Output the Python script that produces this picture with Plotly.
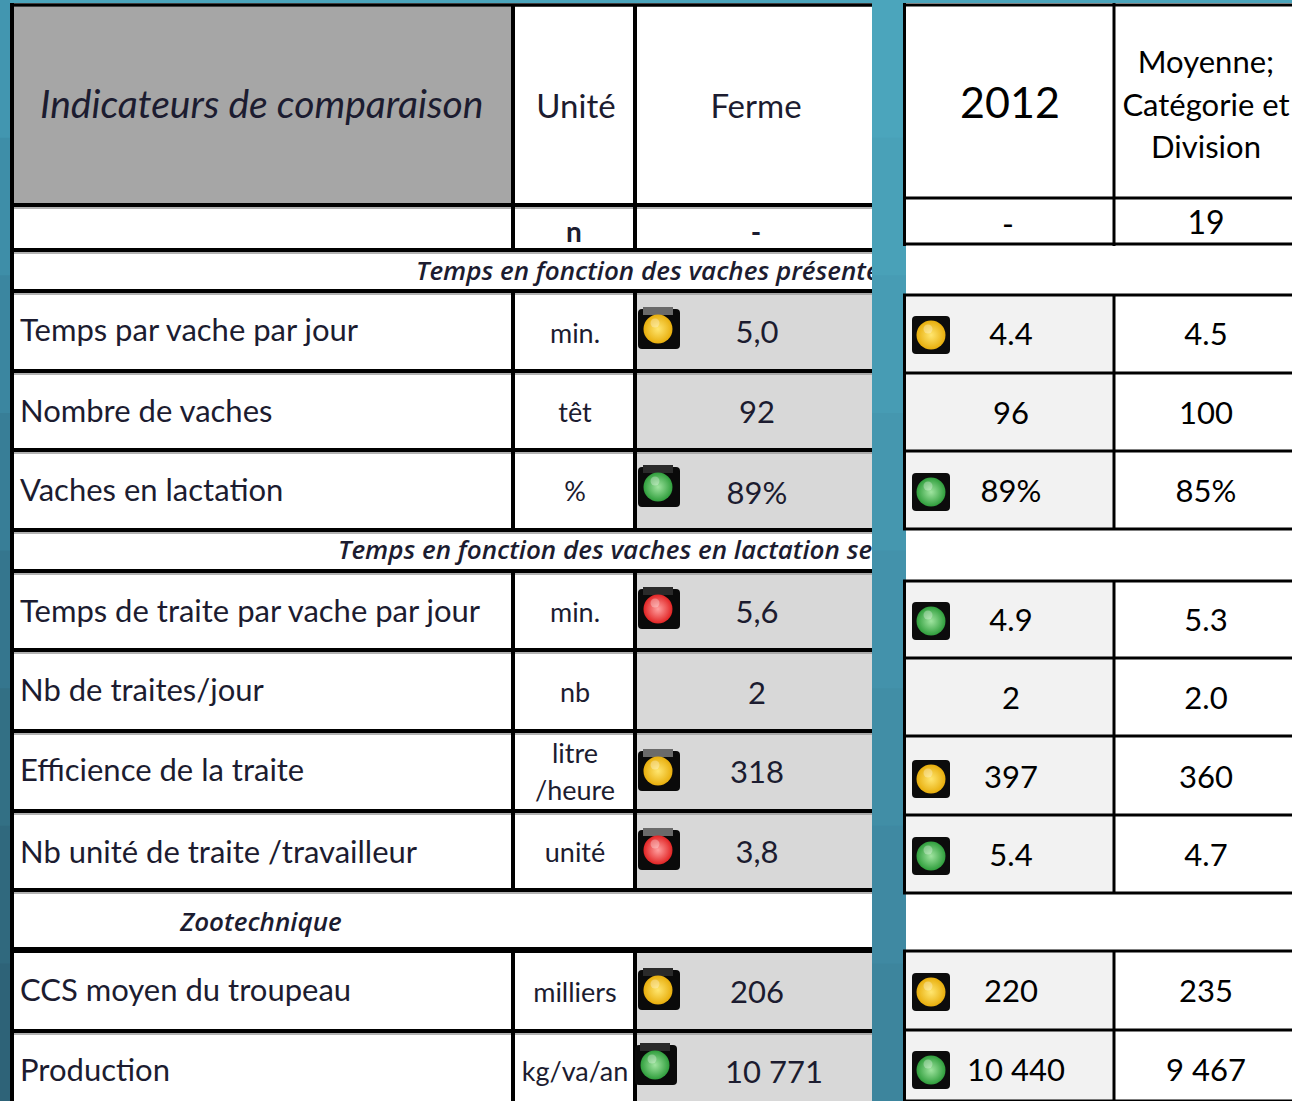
import plotly.graph_objects as go

# ---------- data ----------
indicators = ["Temps par vache par jour", "Nombre de vaches", "Vaches en lactation",
              "Temps de traite par vache par jour", "Nb de traites/jour", "Efficience de la traite",
              "Nb unité de traite /travailleur", "CCS moyen du troupeau", "Production"]
units = ["min.", "têt", "%", "min.", "nb", "/heure", "unité", "milliers", "kg/va/an"]
ferme = ["5,0", "92", "89%", "5,6", "2", "318", "3,8", "206", "10 771"]
year2012 = ["4.4", "96", "89%", "4.9", "2", "397", "5.4", "220", "10 440"]
moyenne = ["4.5", "100", "85%", "5.3", "2.0", "360", "4.7", "235", "9 467"]
ferme_status = ["y", None, "g", "r", None, "y", "r", "y", "g"]
year_status = ["y", None, "g", "g", None, "y", "g", "y", "g"]
sections = ["Temps en fonction des vaches présentes",
            "Temps en fonction des vaches en lactation seu", "Zootechnique"]
moy_title = ["Moyenne;", "Catégorie et", "Division"]

# ---------- layout constants (pixel-mapped axes) ----------
W, H = 1292, 1101
L_FONT, R_FONT = "Lato", "Lato"
L_TXT = "#1c1c30"
DY = 3  # baseline correction for the text traces
ROW_Y_LABEL = [330, 411, 490, 611, 690, 770, 852, 990, 1070]
ROW_Y_UNIT = [333, 412, 491, 612, 692, 790, 852, 992, 1071]
ROW_Y_FERME = [332, 412, 493, 612, 693, 772, 852, 992, 1072]
ROW_Y_RIGHT = [334, 413, 491, 620, 698, 777, 855, 991, 1070]
FERME_X = [757, 757, 757, 757, 757, 757, 757, 757, 774]
LIGHT_L_Y = [329, None, 487, 609, None, 771, 850, 990, 1065]
LIGHT_L_X = [658, None, 658, 658, None, 658, 658, 658, 655]
LIGHT_L_CAP = ["#6a6a6a", None, "#2a2a2a", "#2a2a2a", None, "#6a6a6a", "#6a6a6a", "#2a2a2a", "#2a2a2a"]
LIGHT_R_Y = [335, None, 492, 621, None, 779, 856, 992, 1070]
COL = {"y": ("#e8ae0c", "#ffe670"), "g": ("#2f9e3c", "#a0e4a0"), "r": ("#e22424", "#ffa0a0")}

L_HL = [205, 250, 291, 371, 450, 530, 571, 650, 731, 811, 890, 1031]
R_TOP_ROWS = [5, 198, 244]
R_BLOCKS = [(295, 373, 451, 529), (581, 658, 736, 815, 893), (951, 1030, 1101)]

STRIP_COLORS = ["#4ba5bc", "#49a1b8", "#479cb4", "#4597af", "#4392ab", "#418ea6", "#3f89a2", "#3d859d"]
EDGE_COLORS = ["#4296b0", "#3e8ea8", "#3b86a0", "#387e97", "#35768e", "#337085", "#30697e", "#2e6378"]

shapes = []


def rect(x0, y0, x1, y1, fill, layer="below"):
    shapes.append(dict(type="rect", x0=x0, y0=y0, x1=x1, y1=y1, fillcolor=fill,
                       line=dict(width=0), layer=layer, xref="x", yref="y"))


def hline(y, x0, x1, w=3.6, color="#000000", layer="below"):
    rect(x0, y - w / 2, x1, y + w / 2, color, layer)


def vline(x, y0, y1, w=3.6, layer="below"):
    rect(x - w / 2, y0, x + w / 2, y1, "#000000", layer)


def block(cx, cy, r=4, hw=19, hh=19, fill="#0a0a0a"):
    x0, x1, y0, y1 = cx - hw, cx + hw, cy - hh, cy + hh
    p = (f"M {x0+r} {y0} L {x1-r} {y0} Q {x1} {y0} {x1} {y0+r} L {x1} {y1-r} Q {x1} {y1} {x1-r} {y1} "
         f"L {x0+r} {y1} Q {x0} {y1} {x0} {y1-r} L {x0} {y0+r} Q {x0} {y0} {x0+r} {y0} Z")
    shapes.append(dict(type="path", path=p, fillcolor=fill, line=dict(width=0), layer="below"))


# background
bh = H / len(STRIP_COLORS)
rect(0, 0, W, H, STRIP_COLORS[0])
for i, c in enumerate(STRIP_COLORS):
    rect(872, i * bh, 906, (i + 1) * bh + 1, c, layer="above")
for i, c in enumerate(EDGE_COLORS):
    rect(0, i * bh, 10, (i + 1) * bh + 1, c)

# left table
rect(10, 3, 872, H, "#ffffff")
rect(14, 7, 511, 203, "#a6a6a6")
rect(637, 293, 872, H, "#d8d8d8")
rect(637, 532, 872, 569, "#ffffff")
rect(14, 892, 872, 948, "#ffffff")
hline(5, 10, 872)
for y in L_HL:
    hline(y, 10, 872, 4)
    hline(y + 3, 14, 872, 1.5, "#9a9a9a")
hline(950, 10, 872, 6)
vline(12, 3, H, 4)
for x in (513, 635):
    vline(x, 5, 252, 4)
    vline(x, 291, 530, 4)
    vline(x, 571, 890, 4)
    vline(x, 950, H, 4)

# right table
rect(906, 3, W, H, "#ffffff")
rect(906, 295, 1113, 529, "#f2f2f2")
rect(906, 581, 1113, 893, "#f2f2f2")
rect(906, 951, 1113, H, "#f2f2f2")
for y in R_TOP_ROWS:
    hline(y, 903, W, 3)
    hline(y, 903, 906, 3, layer="above")
vline(904.5, 3, 246, 3, layer="above")
vline(1114, 3, 246, 3)
for b in R_BLOCKS:
    for y in b:
        hline(y, 903, W, 3)
        hline(y, 903, 906, 3, layer="above")
    vline(904.5, b[0] - 1, b[-1] + 1, 3, layer="above")
    vline(1114, b[0], b[-1], 3)

# light casings
for x, y, cap in zip(LIGHT_L_X, LIGHT_L_Y, LIGHT_L_CAP):
    if y is not None:
        block(x + 1, y, hw=21, hh=20)
        rect(x - 15, y - 22, x + 15, y - 14, cap)
for y in LIGHT_R_Y:
    if y is not None:
        block(931, y, hw=19, hh=19, fill="#0c0c0c")

fig = go.Figure()


def text(xs, ys, labels, size, family, color="#000000", pos="middle center", style="normal", weight="normal"):
    fig.add_trace(go.Scatter(x=xs, y=[y + DY for y in ys], text=labels, mode="text", textposition=pos,
                             textfont=dict(size=size, family=family, color=color, style=style, weight=weight),
                             hoverinfo="skip", showlegend=False))


def lights(xs, ys, statuses):
    for k, (outer, inner) in COL.items():
        px = [x for x, y, s in zip(xs, ys, statuses) if s == k]
        py = [y for x, y, s in zip(xs, ys, statuses) if s == k]
        fig.add_trace(go.Scatter(x=px, y=py, mode="markers",
                                 marker=dict(size=29, color=outer, line=dict(width=0),
                                             gradient=dict(type="radial", color=inner)),
                                 hoverinfo="skip", showlegend=False))
        fig.add_trace(go.Scatter(x=[x - 3 for x in px], y=[y - 6 for y in py], mode="markers",
                                 marker=dict(size=9, color="rgba(255,255,255,0.30)", line=dict(width=0)),
                                 hoverinfo="skip", showlegend=False))


lights(LIGHT_L_X, LIGHT_L_Y, ferme_status)
lights([931] * 9, LIGHT_R_Y, year_status)

# left texts
text([40], [105], ["Indicateurs de comparaison"], 39, L_FONT, L_TXT, "middle right", "italic")
text([576, 756], [107, 107], ["Unité", "Ferme"], 33, L_FONT, L_TXT)
text([574, 756], [232, 232], ["n", "-"], 28, L_FONT, L_TXT, weight="bold")
text([20] * 9, ROW_Y_LABEL, indicators, 31, L_FONT, L_TXT, "middle right")
text([575] * 9, ROW_Y_UNIT, units, 27, L_FONT, L_TXT)
text([575], [753], ["litre"], 27, L_FONT, L_TXT)
text(FERME_X, ROW_Y_FERME, ferme, 31, L_FONT, L_TXT)
text([416, 338], [270, 549], sections[:2], 26, "Open Sans", L_TXT, "middle right", "italic", 600)
text([261], [921], sections[2:], 26, "Open Sans", L_TXT, "middle center", "italic", 600)

# right texts
text([1010], [104], ["2012"], 43, R_FONT)
text([1206] * 3, [62, 105, 147], moy_title, 31, R_FONT)
text([1008, 1206], [225, 223], ["-", "19"], 32, R_FONT)
text([1011 if v != "10 440" else 1016 for v in year2012], ROW_Y_RIGHT, year2012, 31, R_FONT)
text([1206] * 9, ROW_Y_RIGHT, moyenne, 31, R_FONT)

fig.update_layout(
    width=W, height=H, margin=dict(l=0, r=0, t=0, b=0), showlegend=False,
    paper_bgcolor="#ffffff", plot_bgcolor="#ffffff", shapes=shapes,
    xaxis=dict(range=[0, W], visible=False, fixedrange=True),
    yaxis=dict(range=[H, 0], visible=False, fixedrange=True),
)
fig.write_html("out.html", config=dict(displayModeBar=False),
               post_script="document.body.style.margin='0';document.documentElement.style.overflow='hidden';")
